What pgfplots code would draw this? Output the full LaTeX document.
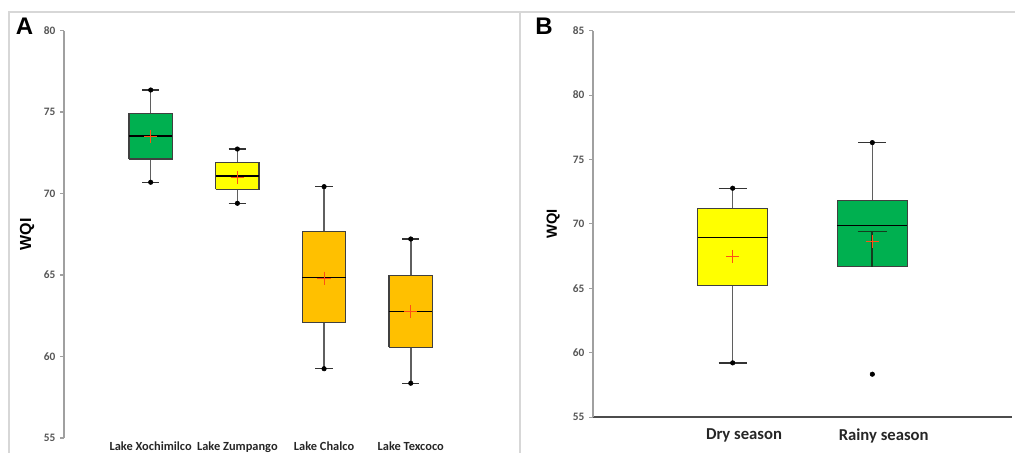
\documentclass[border=0pt]{standalone}
\usepackage{pgfplots}
\pgfplotsset{compat=1.18}
\usepackage{fontspec}
\setmainfont{Carlito}
\newfontfamily\arial{Liberation Sans}
\definecolor{boxgreen}{RGB}{0,176,80}
\definecolor{boxyellow}{RGB}{255,255,0}
\definecolor{boxorange}{RGB}{255,192,0}
\definecolor{meanred}{RGB}{255,80,20}
\definecolor{axgray}{RGB}{160,160,160}
\definecolor{lblgray}{RGB}{85,85,85}
\definecolor{boxedge}{RGB}{64,64,64}
\definecolor{whisk}{RGB}{95,95,95}
\definecolor{framegray}{RGB}{215,215,215}
\definecolor{darkwhisk}{RGB}{20,60,30}

\pgfplotsset{
  wqi/.style={
    scale only axis,
    axis lines*=left,
    axis line style={axgray, line width=0.8pt},
    ytick style={axgray, line width=0.8pt},
    tick align=outside,
    major tick length=3pt,
    xtick style={draw=none},
    /pgf/number format/assume math mode=true,
    y tick label style={font=\bfseries\fontsize{8.5}{9}\selectfont, text=lblgray},
    ylabel={WQI},
  },
}

% box at position #1: lower whisker #2, Q1 #3, median #4, Q3 #5, upper whisker #6, fill #7
\newcommand{\wqibox}[7]{%
  \pgfmathsetmacro\bxL{#1-0.25}\pgfmathsetmacro\bxR{#1+0.25}%
  \pgfmathsetmacro\cpL{#1-0.1}\pgfmathsetmacro\cpR{#1+0.1}%
  \addplot[whisk, line width=1.1pt] coordinates {(#1,#2) (#1,#3)};
  \addplot[whisk, line width=1.1pt] coordinates {(#1,#5) (#1,#6)};
  \addplot[fill=#7, draw=boxedge, line width=0.9pt]
    coordinates {(\bxL,#3) (\bxR,#3) (\bxR,#5) (\bxL,#5) (\bxL,#3)};
  \addplot[black, line width=1pt] coordinates {(\bxL,#4) (\bxR,#4)};
  \addplot[black!80, line width=1pt] coordinates {(\cpL,#2) (\cpR,#2)};
  \addplot[black!80, line width=1pt] coordinates {(\cpL,#6) (\cpR,#6)};
}
\pgfplotsset{
  dots/.style={only marks, mark=*, mark size=1.7pt, black},
  meanmark/.style={only marks, mark=+, mark size=5pt, meanred, line width=0.8pt},
}

\begin{document}
\begin{tikzpicture}
\path[use as bounding box] (0,0) rectangle (761.25pt,339.75pt);
\draw[framegray, line width=0.9pt] (6.75pt,0) -- (6.75pt,330.75pt) -- (761.25pt,330.75pt);
\draw[framegray, line width=0.9pt] (390pt,0) -- (390pt,330.75pt);

% panel A
\begin{axis}[wqi,
  at={(48pt,11.25pt)}, anchor=south west,
  width=325.1pt, height=305.6pt,
  xmin=0, xmax=5, ymin=55, ymax=80,
  ytick={55,60,...,80},
  xtick={1,2,3,4},
  x axis line style={draw=none},
  xticklabels={Lake Xochimilco, Lake Zumpango, Lake Chalco, Lake Texcoco},
  x tick label style={font=\bfseries\fontsize{9.3}{10}\selectfont, text=black!85, yshift=3.5pt},
  ylabel style={at={(axis description cs:-0.085,0.5)}, anchor=center,
    font=\arial\bfseries\fontsize{12}{14}\selectfont},
]
\wqibox{1}{70.69}{72.12}{73.53}{74.9}{76.35}{boxgreen}
\wqibox{2}{69.4}{70.26}{71.07}{71.89}{72.73}{boxyellow}
\wqibox{3}{59.25}{62.1}{64.86}{67.66}{70.42}{boxorange}
\wqibox{4}{58.36}{60.56}{62.77}{64.98}{67.21}{boxorange}
\addplot[dots] coordinates {(1,76.35) (1,70.69) (2,72.73) (2,69.4)
  (3,70.42) (3,59.25) (4,67.21) (4,58.36)};
\addplot[meanmark] coordinates {(1,73.48) (2,71.0) (3,64.8) (4,62.75)};
\end{axis}

% panel B
\begin{axis}[wqi,
  at={(444.75pt,26.8pt)}, anchor=south west,
  width=314.25pt, height=290pt,
  xmin=0, xmax=3, ymin=55, ymax=85,
  ytick={55,60,...,85},
  xtick={1,2},
  x axis line style={draw=black!70, line width=1.2pt},
  xticklabels={Dry season, Rainy season},
  x tick label style={font=\bfseries\fontsize{12.5}{14}\selectfont, text=black!85, xshift=8.5pt, yshift=-2pt},
  ylabel style={at={(axis description cs:-0.095,0.5)}, anchor=center,
    font=\arial\bfseries\fontsize{11}{13}\selectfont},
]
\wqibox{1}{59.22}{65.22}{68.94}{71.22}{72.77}{boxyellow}
\wqibox{2}{69.41}{66.67}{69.87}{71.84}{76.31}{boxgreen}
% lower whisker of the rainy season, drawn over its box as in the source
\addplot[darkwhisk, line width=1.3pt] coordinates {(2,66.67) (2,69.41)};
\addplot[darkwhisk, line width=1.3pt] coordinates {(1.895,69.41) (2.105,69.41)};
\addplot[dots] coordinates {(1,72.77) (1,59.22) (2,76.31) (2,58.34)};
\addplot[meanmark] coordinates {(1,67.47) (2,68.63)};
\end{axis}

\node[font=\arial\bfseries\fontsize{18}{20}\selectfont] at (18.4pt,319.9pt) {A};
\node[font=\arial\bfseries\fontsize{18}{20}\selectfont] at (408pt,320.2pt) {B};
\end{tikzpicture}
\end{document}
